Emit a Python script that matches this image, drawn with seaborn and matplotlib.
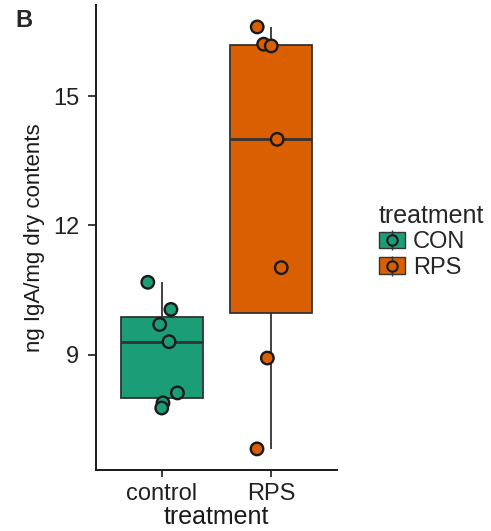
import numpy as np
import pandas as pd
import matplotlib
matplotlib.use("Agg")
import matplotlib.pyplot as plt
import seaborn as sns
from matplotlib.patches import Patch
from matplotlib.lines import Line2D
from matplotlib.legend_handler import HandlerTuple

# ---- data ----
categories = ["control", "RPS"]
groups = ["CON", "RPS"]
control_values = [10.68, 10.05, 9.70, 9.30, 8.11, 7.88, 7.76]
rps_values = [16.61, 16.21, 16.17, 14.00, 11.02, 8.92, 6.81]
yticks = [9, 12, 15]
colors = ["#1b9e77", "#d95f02"]

df = pd.DataFrame({
    "treatment": [categories[0]] * len(control_values) + [categories[1]] * len(rps_values),
    "group": [groups[0]] * len(control_values) + [groups[1]] * len(rps_values),
    "value": control_values + rps_values,
})

sns.set_theme(style="ticks")
plt.rcParams["font.family"] = ["Liberation Sans", "DejaVu Sans"]

W, H = 491, 531
fig = plt.figure(figsize=(W / 100, H / 100), dpi=100)
ax = fig.add_axes([96 / W, 1 - 470 / H, (337 - 96) / W, (470 - 5) / H])

pal = dict(zip(groups, colors))
sns.boxplot(data=df, x="treatment", y="value", hue="group", palette=pal,
            order=categories, hue_order=groups, dodge=False, width=0.75,
            showfliers=False, showcaps=False, linecolor="#333333", linewidth=1.3,
            saturation=1, legend=False, ax=ax,
            medianprops=dict(linewidth=2.0, color="#333333"))
np.random.seed(7)
sns.stripplot(data=df, x="treatment", y="value", hue="group", palette=pal,
              order=categories, hue_order=groups, dodge=False, jitter=0.15,
              size=9, linewidth=1.7, edgecolor="#1a1a1a", legend=False, ax=ax)

ax.set_xlim(-0.6, 1.6)
ax.set_ylim(6.32, 17.12)
ax.set_yticks(yticks)
ax.set_yticklabels([str(t) for t in yticks])
for s in ["top", "right"]:
    ax.spines[s].set_visible(False)
for s in ["left", "bottom"]:
    ax.spines[s].set_linewidth(1.4)
    ax.spines[s].set_color("#1a1a1a")
ax.tick_params(axis="both", length=5, width=1.2, color="#1a1a1a",
               labelsize=17, labelcolor="#222222", pad=4)
ax.tick_params(axis="y", length=6, pad=6)
ax.set_xlabel("treatment", fontsize=18, color="#1a1a1a", labelpad=0)
ax.set_ylabel("ng IgA/mg dry contents", fontsize=16, color="#1a1a1a", labelpad=6)

fig.text(15 / W, 1 - 9 / H, "B", fontsize=17, fontweight="bold", va="top", ha="left")

handles = []
for c in colors:
    handles.append((Patch(facecolor=c, edgecolor="#333333", linewidth=1.0),
                    Line2D([], [], marker="|", markersize=14, color="#333333", ls="none", mew=1.0),
                    Line2D([], [], marker="o", markersize=7.5, markerfacecolor=c,
                           markeredgecolor="#1a1a1a", mew=1.5, ls="none")))
leg = fig.legend(handles, groups, title="treatment", loc="upper left",
                 bbox_to_anchor=(367 / W, 1 - 192 / H), frameon=False,
                 fontsize=17, title_fontsize=18, handlelength=1.1, handleheight=0.7,
                 handletextpad=0.35, labelspacing=0.15, borderpad=0,
                 handler_map={tuple: HandlerTuple(ndivide=1, pad=0)})
leg._legend_box.align = "left"

fig.savefig("out.png", dpi=100)
